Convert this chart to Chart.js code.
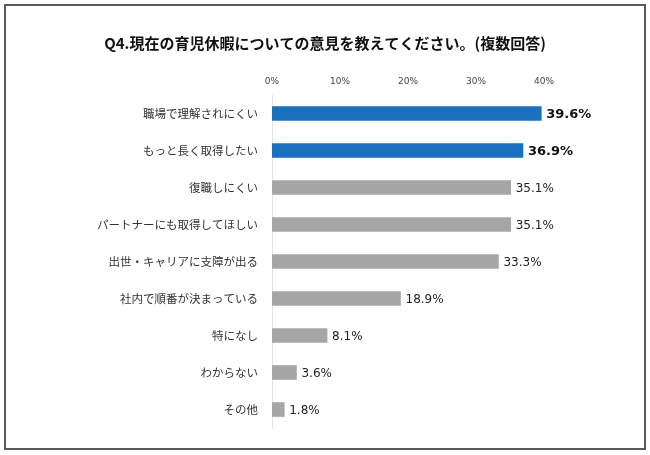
<!DOCTYPE html>
<html>
<head>
<meta charset="utf-8">
<script src="https://cdn.jsdelivr.net/npm/chart.js@4"></script>
<style>
  body { margin: 0; background: #fff; }
  canvas { display: block; }
</style>
</head>
<body>
<canvas id="ikukyuChart" width="650" height="455"></canvas>
<script>
const titulo = 'Q4.現在の育児休暇についての意見を教えてください。(複数回答)'
const categorias = [
    '職場で理解されにくい',
    'もっと長く取得したい',
    '復職しにくい',
    'パートナーにも取得してほしい',
    '出世・キャリアに支障が出る',
    '社内で順番が決まっている',
    '特になし',
    'わからない',
    'その他'
]
const valores = [39.6, 36.9, 35.1, 35.1, 33.3, 18.9, 8.1, 3.6, 1.8]
const destaque = [true, true, false, false, false, false, false, false, false]
const ticksX = [0, 10, 20, 30, 40]

const AZUL = '#1870be'
const CINZA = '#a6a6a6'

// moldura cinza em volta do grafico
const moldura = {
    id: 'moldura',
    beforeDraw(chart) {
        const ctx = chart.ctx
        ctx.save()
        ctx.strokeStyle = '#5a5a5a'
        ctx.lineWidth = 2
        ctx.strokeRect(5, 5, 640, 444)
        ctx.restore()
    }
}

// rotulos de porcentagem no fim de cada barra
const rotulos = {
    id: 'rotulos',
    afterDatasetsDraw(chart) {
        const ctx = chart.ctx
        const meta = chart.getDatasetMeta(0)
        ctx.save()
        ctx.textBaseline = 'middle'
        ctx.textAlign = 'left'
        meta.data.forEach((barra, i) => {
            if (destaque[i]) {
                ctx.font = 'bold 13px "DejaVu Sans"'
                ctx.fillStyle = '#111'
            } else {
                ctx.font = '12px "DejaVu Sans"'
                ctx.fillStyle = '#222'
            }
            ctx.fillText(valores[i].toFixed(1) + '%', barra.x + 5, barra.y + 1)
        })
        ctx.restore()
    }
}

const chart = document.getElementById('ikukyuChart')

const grafico = new Chart(chart, {
    type: 'bar',
    data: {
        labels: categorias,
        datasets: [{
            label: '回答',
            data: valores,
            backgroundColor: destaque.map(d => d ? AZUL : CINZA),
            barThickness: 14,
        }]
    },
    options: {
        indexAxis: 'y',
        responsive: false,
        animation: false,
        layout: {
            padding: { left: 0, right: 0, top: 0, bottom: 27 }
        },
        plugins: {
            legend: { display: false },
            tooltip: { enabled: false },
            title: {
                display: true,
                text: titulo,
                color: '#111',
                font: { family: '"Noto Sans CJK JP"', size: 15, weight: 'bold' },
                padding: { top: 34, bottom: 10 }
            }
        },
        scales: {
            x: {
                position: 'top',
                min: 0,
                max: 40,
                afterBuildTicks: (s) => { s.ticks = ticksX.map(v => ({ value: v })) },
                afterFit: (s) => { s.height = 33 },
                grid: { display: false, drawTicks: false },
                border: { display: false },
                ticks: {
                    padding: 8,
                    color: '#444',
                    font: { family: '"DejaVu Sans"', size: 9 },
                    callback: (v) => v + '%'
                }
            },
            y: {
                afterFit: (s) => { s.width = 272 },
                grid: { display: false, drawTicks: false },
                border: { display: true, color: '#e4e4e4', width: 1 },
                ticks: {
                    padding: 14,
                    color: '#333',
                    font: { family: '"Noto Sans CJK JP"', size: 11.5 }
                }
            },
            // espaco vazio a direita para os rotulos
            espaco: {
                type: 'linear',
                position: 'right',
                afterFit: (s) => { s.width = 106 },
                grid: { display: false, drawTicks: false },
                border: { display: false },
                ticks: { display: false }
            }
        }
    },
    plugins: [moldura, rotulos]
})
</script>
</body>
</html>
